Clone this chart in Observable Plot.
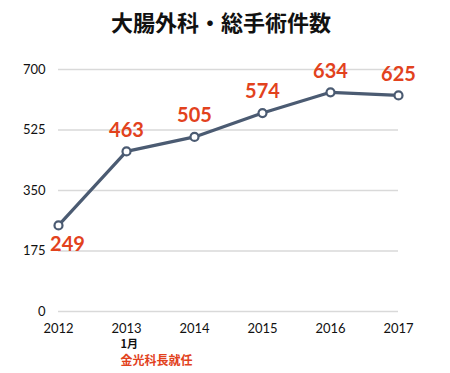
<!DOCTYPE html>
<html><head><meta charset="utf-8">
<script src="https://cdn.jsdelivr.net/npm/d3@7"></script>
<script src="https://cdn.jsdelivr.net/npm/@observablehq/plot@0.6"></script>
<style>
body{margin:0;background:#fff;width:450px;height:373px;overflow:hidden}
#title{height:40px;line-height:42px;text-align:center;font-family:"Noto Sans CJK JP",sans-serif;font-weight:700;font-size:22px;color:#111;padding-right:8px}
</style></head><body>
<div id="title">大腸外科・総手術件数</div>
<div id="chart"></div>
<script>
const years = [2012, 2013, 2014, 2015, 2016, 2017];
const counts = [249, 463, 505, 574, 634, 625];
const yTicks = [0, 175, 350, 525, 700];
const noteYear = 2013;
const noteLine1 = "1月";
const noteLine2 = "金光科長就任";

const data = years.map((y, i) => ({year: y, count: counts[i]}));
const red = "#e2421d";
const lineColor = "#4b5b72";

const plot = Plot.plot({
  width: 450,
  height: 333,
  marginTop: 29,
  marginBottom: 62,
  marginLeft: 58,
  marginRight: 52,
  style: {fontFamily: "Lato, 'Noto Sans', sans-serif", fontSize: "13px", color: "#111", background: "#fff"},
  x: {type: "point", domain: years, label: null, tickSize: 0, tickPadding: 12, padding: 0, tickFormat: d => String(d)},
  y: {domain: [0, 700], ticks: yTicks, label: null, tickSize: 0, tickPadding: 13, tickFormat: d => String(d)},
  marks: [
    Plot.gridY(yTicks, {stroke: "#d9d9d9", strokeOpacity: 1, strokeWidth: 1.3}),
    Plot.line(data, {x: "year", y: "count", stroke: lineColor, strokeWidth: 3.2}),
    Plot.dot(data, {x: "year", y: "count", r: 4, fill: "#fff", stroke: lineColor, strokeWidth: 2.2}),
    Plot.text(data.filter(d => d.year !== 2012), {x: "year", y: "count", text: d => String(d.count), dy: -21, fill: red, fontSize: 20, fontWeight: 700}),
    Plot.text(data.filter(d => d.year === 2012), {x: "year", y: "count", text: d => String(d.count), dy: 19, dx: 9, fill: red, fontSize: 20, fontWeight: 700}),
    Plot.text([noteLine1], {x: [noteYear], frameAnchor: "bottom", dy: 36, dx: -6, textAnchor: "start", text: d => d, fill: "#111", fontSize: 11, fontWeight: 700, fontFamily: "'Noto Sans CJK JP', sans-serif"}),
    Plot.text([noteLine2], {x: [noteYear], frameAnchor: "bottom", dy: 53, dx: -6, textAnchor: "start", text: d => d, fill: red, fontSize: 12, fontWeight: 700, fontFamily: "'Noto Sans CJK JP', sans-serif"})
  ]
});
document.getElementById("chart").appendChild(plot);
</script>
</body></html>
